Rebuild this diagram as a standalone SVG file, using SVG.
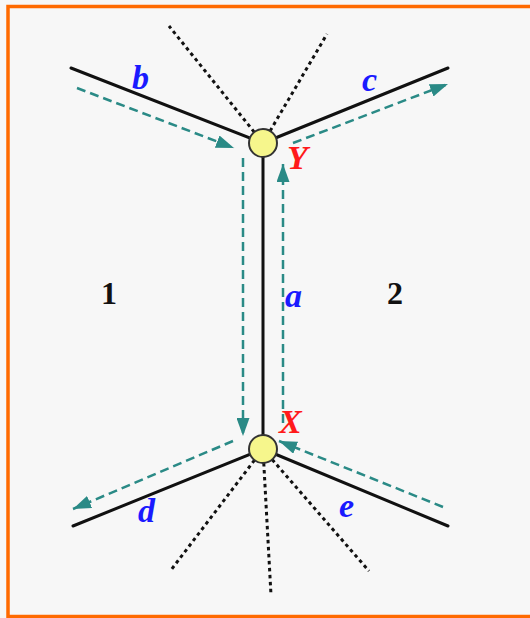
<svg xmlns="http://www.w3.org/2000/svg" width="530" height="618" viewBox="0 0 530 618">
<style>
.bg{fill:#f7f7f7}
.frame{fill:none;stroke:#ff6a00;stroke-width:3.5}
.edge{stroke:#111;stroke-width:3;fill:none;stroke-linecap:round}
.dot{stroke:#111;stroke-width:3;fill:none;stroke-dasharray:3.5 3.5}
.flow{stroke:#2a8a86;stroke-width:2.5;fill:none;stroke-dasharray:9 5;marker-end:url(#ah)}
.node{fill:#f6f68c;stroke:#333;stroke-width:2}
.lab{font-family:"Liberation Serif",serif;font-style:italic;font-weight:bold;font-size:34px;fill:#1a1aff}
.vx{font-family:"Liberation Serif",serif;font-style:italic;font-weight:bold;font-size:34px;fill:#ff1a1a}
.reg{font-family:"Liberation Serif",serif;font-weight:bold;font-size:32px;fill:#111}
</style>
<defs>
<marker id="ah" markerUnits="userSpaceOnUse" markerWidth="18" markerHeight="13" refX="18" refY="6.5" orient="auto">
<path d="M0,0 L18,6.5 L0,13 z" fill="#2a8a86"/>
</marker>
</defs>
<rect class="bg" x="0" y="0" width="530" height="618"/>
<rect class="frame" x="8" y="6.5" width="540" height="610"/>
<g id="connectors">
<line class="dot" x1="263" y1="143" x2="169" y2="26"/>
<line class="dot" x1="263" y1="143" x2="327" y2="34"/>
<line class="dot" x1="263" y1="449" x2="171" y2="570"/>
<line class="dot" x1="263" y1="449" x2="271" y2="595"/>
<line class="dot" x1="263" y1="449" x2="369" y2="571"/>
<line id="edge-b" class="edge" x1="71" y1="68" x2="263" y2="143"/>
<line id="edge-c" class="edge" x1="263" y1="143" x2="448" y2="68"/>
<line id="edge-a" class="edge" x1="263" y1="143" x2="263" y2="449"/>
<line id="edge-d" class="edge" x1="73" y1="526" x2="263" y2="449"/>
<line id="edge-e" class="edge" x1="263" y1="449" x2="448" y2="526"/>
<line class="flow" x1="77" y1="88" x2="234" y2="148"/>
<line class="flow" x1="293" y1="143" x2="448" y2="84"/>
<line class="flow" x1="243" y1="158" x2="243" y2="436"/>
<line class="flow" x1="283" y1="423" x2="283" y2="164"/>
<line class="flow" x1="233" y1="441" x2="73" y2="509"/>
<line class="flow" x1="443" y1="507" x2="279" y2="441"/>
</g>
<g id="node-Y">
<circle class="node" cx="263" cy="143" r="14"/>
<text class="vx" x="287" y="169">Y</text>
</g>
<g id="node-X">
<circle class="node" cx="263" cy="449" r="14"/>
<text class="vx" x="279" y="433">X</text>
</g>
<g id="labels">
<text class="lab" x="132" y="89">b</text>
<text class="lab" x="362" y="91">c</text>
<text class="lab" x="285" y="307">a</text>
<text class="lab" x="138" y="522">d</text>
<text class="lab" x="339" y="517">e</text>
<text class="reg" x="101" y="304">1</text>
<text class="reg" x="387" y="304">2</text>
</g>
</svg>
